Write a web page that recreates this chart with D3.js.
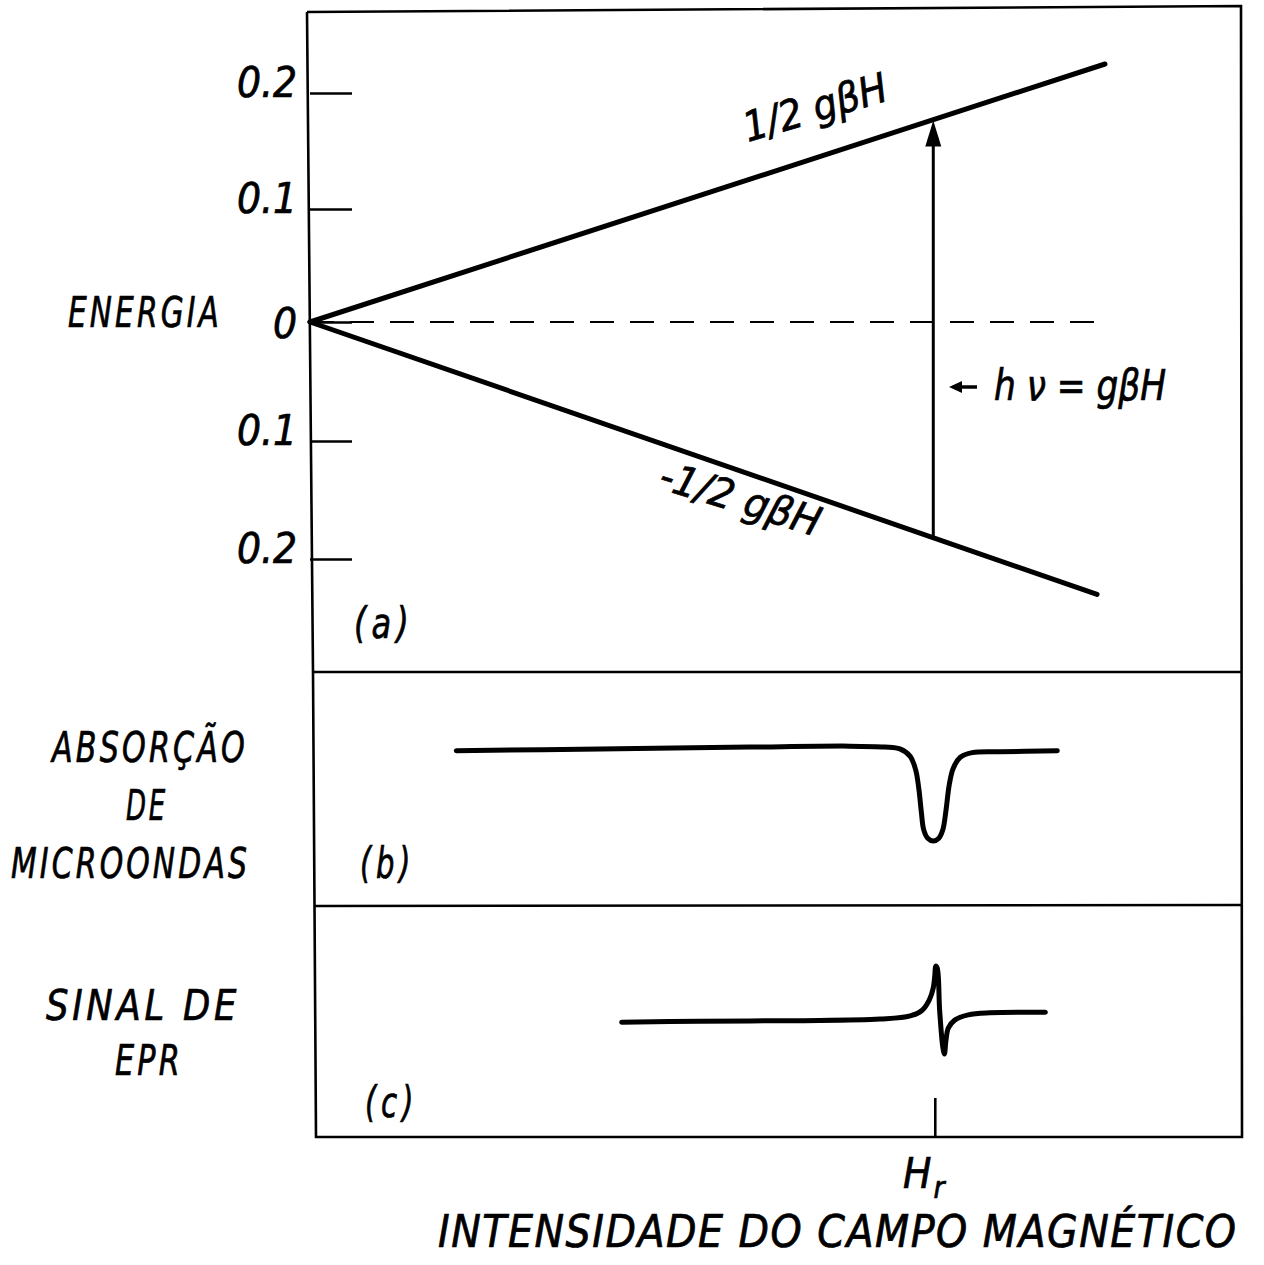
<!DOCTYPE html>
<html><head><meta charset="utf-8">
<script src="https://cdn.jsdelivr.net/npm/d3@7"></script>
<style>
html,body{margin:0;padding:0;background:#fff;}
svg{display:block;}
text{font-family:"DejaVu Sans Condensed","DejaVu Sans",sans-serif;font-style:oblique;fill:#000;stroke:#000;stroke-width:0.7px;}
</style></head><body>
<svg id="chart" width="1264" height="1265"></svg>
<script>
// ---------- data ----------
const fieldDomain = [0, 100];                       // magnetic field H (arbitrary units)
const energyTicks = [-0.2, -0.1, 0, 0.1, 0.2];
const energyTickLabels = ["0.2", "0.1", "0", "0.1", "0.2"];
const upperLevelH = [0, 100];
const upperLevelE = [0, 0.225];                     // +1/2 gβH
const lowerLevelH = [0, 99];
const lowerLevelE = [0, -0.23];                     // -1/2 gβH
const resonanceField = 78.4;                        // H_r
const absorptionH = [18.4, 36.5, 55.3, 67.9, 72.3, 74.2, 75.5, 76.2, 76.6, 76.9, 77.2, 77.7, 78.4, 79.1, 79.6, 80.0, 80.4, 80.9, 81.8, 83.3, 86.8, 94.0];
const absorptionValues = [-0.03, -0.01, 0.01, 0.02, 0.01, -0.01, -0.09, -0.24, -0.45, -0.69, -0.88, -0.97, -1.0, -0.97, -0.88, -0.67, -0.40, -0.22, -0.10, -0.05, -0.04, -0.03];
const eprH = [39.2, 49.1, 61.6, 71.7, 75.5, 77.0, 77.9, 78.4, 78.6, 78.7, 78.9, 79.2, 79.6, 79.8, 80.0, 80.3, 81.1, 82.8, 85.5, 92.5];
const eprValues = [-0.10, -0.08, -0.07, -0.04, 0.02, 0.13, 0.33, 0.56, 0.81, 0.98, 0.94, 0.13, -0.58, -0.71, -0.44, -0.21, -0.06, 0.04, 0.08, 0.09];

// ---------- layout ----------
const svg = d3.select("#chart");
const x = d3.scaleLinear().domain(fieldDomain).range([310, 1105]);
const yE = d3.scaleLinear().domain(energyTicks).range([559, 441, 322, 209, 93]);
const yA = d3.scaleLinear().domain([-1, 0]).range([841, 748]);
const yS = d3.scaleLinear().domain([-1, 1]).range([1069, 965]);

// frame
const frame = svg.append("g").attr("fill", "none").attr("stroke", "#000").attr("stroke-width", 2.6);
frame.append("path").attr("d", "M307,12 L1241,6 L1242,1137 L316,1137 L313,672 L307,12");
frame.append("line").attr("x1", 313).attr("x2", 1241).attr("y1", 672).attr("y2", 672);
frame.append("line").attr("x1", 315).attr("x2", 1242).attr("y1", 906).attr("y2", 905);

// energy axis
const axis = d3.axisLeft(yE).tickValues(energyTicks)
  .tickFormat((d, i) => energyTickLabels[i]).tickSizeInner(-42).tickSizeOuter(0).tickPadding(13);
const gAxis = svg.append("g").attr("transform", "translate(310,0)").call(axis);
gAxis.select(".domain").remove();
gAxis.selectAll(".tick line").attr("stroke", "#000").attr("stroke-width", 2.4);
gAxis.selectAll(".tick text")
  .attr("font-family", null).attr("font-size", 42).attr("fill", "#000")
  .attr("dy", d => d === 0 ? 15 : 3);

// dashed zero line
svg.append("line")
  .attr("x1", x(0)).attr("x2", x(100)).attr("y1", yE(0)).attr("y2", yE(0))
  .attr("stroke", "#000").attr("stroke-width", 2).attr("stroke-dasharray", "24,16");

// energy levels
const lvl = d3.line().x(d => x(d[0])).y(d => yE(d[1]));
svg.append("path").datum(d3.zip(upperLevelH, upperLevelE)).attr("d", lvl)
  .attr("fill", "none").attr("stroke", "#000").attr("stroke-width", 5).attr("stroke-linecap", "round");
svg.append("path").datum(d3.zip(lowerLevelH, lowerLevelE)).attr("d", lvl)
  .attr("fill", "none").attr("stroke", "#000").attr("stroke-width", 5).attr("stroke-linecap", "round");

// transition arrow at H_r
const eUp = d3.scaleLinear().domain(upperLevelH).range(upperLevelE)(resonanceField);
const eLo = d3.scaleLinear().domain(lowerLevelH).range(lowerLevelE)(resonanceField);
const ax = x(resonanceField), ayTop = yE(eUp), ayBot = yE(eLo);
svg.append("line").attr("x1", ax).attr("x2", ax).attr("y1", ayBot).attr("y2", ayTop + 20)
  .attr("stroke", "#000").attr("stroke-width", 3);
svg.append("path").attr("d", `M${ax},${ayTop} L${ax - 8},${ayTop + 26} L${ax + 8},${ayTop + 26} Z`).attr("fill", "#000");

// small arrow + label h nu = g beta H
svg.append("line").attr("x1", 977).attr("x2", 958).attr("y1", 387).attr("y2", 387).attr("stroke", "#000").attr("stroke-width", 3.5);
svg.append("path").attr("d", "M949,387 L962,381 L962,393 Z").attr("fill", "#000");
svg.append("text").attr("x", 994).attr("y", 400).attr("font-size", 42)
  .attr("textLength", 172).attr("lengthAdjust", "spacingAndGlyphs").text("h ν = gβH");

// level labels
const angUp = Math.atan2(yE(upperLevelE[1]) - yE(0), x(upperLevelH[1]) - x(0)) * 180 / Math.PI;
const angLo = Math.atan2(yE(lowerLevelE[1]) - yE(0), x(lowerLevelH[1]) - x(0)) * 180 / Math.PI;
svg.append("text").attr("transform", `translate(748,142) rotate(${angUp + 1.5})`).attr("font-size", 41)
  .attr("textLength", 148).attr("lengthAdjust", "spacingAndGlyphs").text("1/2 gβH");
svg.append("text").attr("transform", `translate(657,488) rotate(${angLo - 2})`).attr("font-size", 41)
  .attr("textLength", 166).attr("lengthAdjust", "spacingAndGlyphs").text("-1/2 gβH");

// absorption curve
const curveLine = d3.line().curve(d3.curveCatmullRom.alpha(0.5));
svg.append("path")
  .attr("d", curveLine(d3.zip(absorptionH, absorptionValues).map(d => [x(d[0]), yA(d[1])])))
  .attr("fill", "none").attr("stroke", "#000").attr("stroke-width", 5).attr("stroke-linecap", "round").attr("stroke-linejoin", "round");

// EPR derivative signal
svg.append("path")
  .attr("d", curveLine(d3.zip(eprH, eprValues).map(d => [x(d[0]), yS(d[1])])))
  .attr("fill", "none").attr("stroke", "#000").attr("stroke-width", 5).attr("stroke-linecap", "round").attr("stroke-linejoin", "round");

// H_r tick on bottom axis
svg.append("line").attr("x1", x(resonanceField) + 2).attr("x2", x(resonanceField) + 2).attr("y1", 1098).attr("y2", 1137)
  .attr("stroke", "#000").attr("stroke-width", 2.6);

// labels
function label(t, xx, yy, w, fs, ls) {
  svg.append("text").attr("x", xx).attr("y", yy).attr("font-size", fs || 42)
    .attr("letter-spacing", ls == null ? 4 : ls)
    .attr("textLength", w).attr("lengthAdjust", "spacingAndGlyphs").text(t);
}
label("ENERGIA", 68, 327, 154);
label("(a)", 354, 638, 60, 42, 6);
label("ABSORÇÃO", 52, 762, 196);
label("DE", 126, 820, 42);
label("MICROONDAS", 11, 878, 239);
label("(b)", 360, 878, 55, 42, 6);
label("SINAL  DE", 46, 1020, 194);
label("EPR", 115, 1075, 68);
label("(c)", 365, 1117, 53, 42, 6);
svg.append("text").attr("x", 438).attr("y", 1247).attr("font-size", 44)
  .attr("textLength", 798).attr("lengthAdjust", "spacing")
  .text("INTENSIDADE  DO  CAMPO  MAGNÉTICO");
const hr = svg.append("text").attr("x", 903).attr("y", 1188).attr("font-size", 42);
hr.append("tspan").text("H");
hr.append("tspan").attr("font-size", 30).attr("dy", 10).attr("dx", 2).text("r");
</script>
</body></html>
